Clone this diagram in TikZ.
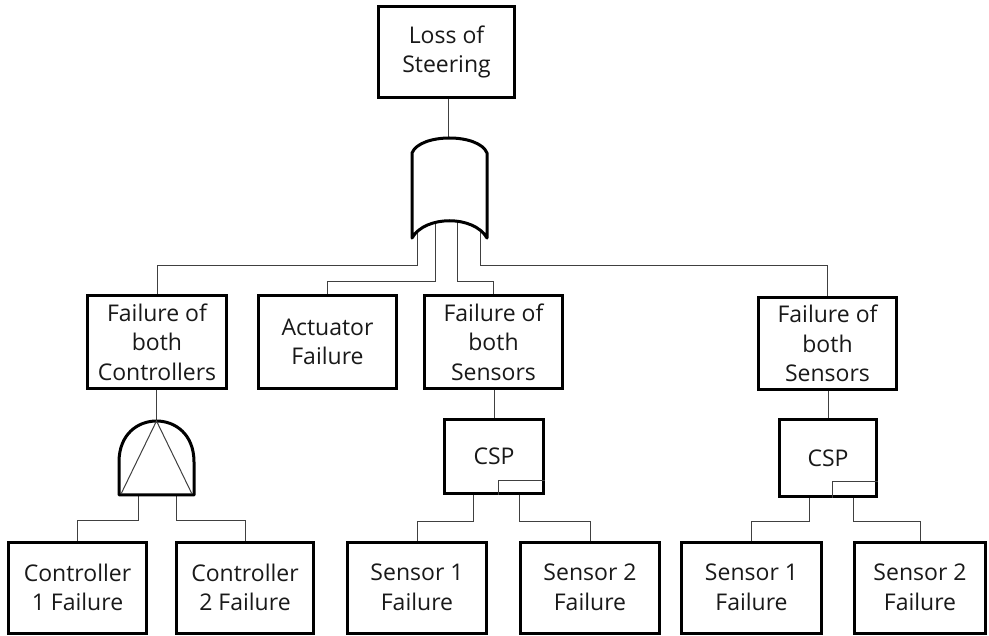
\documentclass[tikz,border=0pt]{standalone}
\usepackage{fontspec}
\setmainfont{Open Sans}
\usetikzlibrary{calc}
\begin{document}
\begin{tikzpicture}[x=1pt,y=-1pt,
  event/.style={draw=black,line width=3pt,fill=white,rectangle,inner sep=0pt,
    align=center,font=\fontsize{23}{29.5}\selectfont,text=black!90},
  link/.style={draw=black!75,line width=1pt},
  gateline/.style={draw=black,line width=3pt,fill=white,line join=round},
]
\useasboundingbox (0,0) rectangle (989,636);

% bus levels for the connectors
\coordinate (busA) at (0,266);
\coordinate (busB) at (0,282);
\coordinate (busC) at (0,520);
\coordinate (busD) at (0,521);

% events
\node[event,minimum width=136,minimum height=91] (top) at (446.5,52) {\raisebox{-3pt}{\parbox{130pt}{\centering Loss of\\Steering}}};

\node[event,minimum width=139,minimum height=93] (fc)  at (157,342)   {Failure of\\both\\Controllers};
\node[event,minimum width=138,minimum height=93] (act) at (327.5,342) {Actuator\\Failure};
\node[event,minimum width=138,minimum height=93] (fs1) at (493.5,342) {Failure of\\both\\Sensors};
\node[event,minimum width=138,minimum height=92] (fs2) at (827.5,343.5) {Failure of\\both\\Sensors};

\node[event,minimum width=99,minimum height=74] (csp1) at (494,456.5) {CSP};
\node[event,minimum width=97,minimum height=77] (csp2) at (828,458) {CSP};

\node[event,minimum width=138,minimum height=91] (c1) at (77.5,587.5) {Controller\\1 Failure};
\node[event,minimum width=137,minimum height=91] (c2) at (245,587.5)  {Controller\\2 Failure};
\node[event,minimum width=139,minimum height=91] (s1) at (417,587.5)  {Sensor 1\\Failure};
\node[event,minimum width=139,minimum height=91] (s2) at (590,587.5)  {Sensor 2\\Failure};
\node[event,minimum width=140,minimum height=91] (s3) at (751.5,587.5) {Sensor 1\\Failure};
\node[event,minimum width=131,minimum height=91] (s4) at (920,587.5)  {Sensor 2\\Failure};

% gate terminals (the parts inside a gate are covered by its fill)
\coordinate (ortop) at (448,150);
\coordinate (or1) at (417,225);
\coordinate (or2) at (435,215);
\coordinate (or3) at (457,215);
\coordinate (or4) at (480,225);
\coordinate (andtop) at (156.5,421);
\coordinate (and1) at (138,485);
\coordinate (and2) at (176,485);

% connectors
\draw[link] (top.south -| ortop) -- (ortop);
\draw[link] (or1) -- (or1 |- busA) -| (fc.north);
\draw[link] (or2) -- (or2 |- busB) -| (act.north);
\draw[link] (or3) -- (or3 |- busB) -| (fs1.north);
\draw[link] (or4) -- (or4 |- busA) -| (fs2.north);

\draw[link] (fc.south -| andtop) -- (andtop);
\draw[link] (and1) -- (and1 |- busC) -| (c1.north);
\draw[link] (and2) -- (and2 |- busC) -| (c2.north);

\draw[link] (fs1.south -| csp1.north) -- (csp1.north);
\coordinate (p1) at ($(csp1.south)+(-21,0)$);
\coordinate (p2) at ($(csp1.south)+(25,0)$);
\draw[link] (p1) -- (p1 |- busD) -| (s1.north);
\draw[link] (p2) -- (p2 |- busD) -| (s2.north);

\draw[link] (fs2.south -| csp2.north) -- (csp2.north);
\coordinate (q1) at ($(csp2.south)+(-19,0)$);
\coordinate (q2) at ($(csp2.south)+(25,0)$);
\draw[link] (q1) -- (q1 |- busD) -| (s3.north);
\draw[link] (q2) -- (q2 |- busD) -| (s4.north);

% priority mark inside the CSP gates
\draw[link] ($(csp1.south east)+(-47,0)$) -- ++(0,-14) -| ($(csp1.south east)+(0,-14)$);
\draw[link] ($(csp2.south east)+(-46,0)$) -- ++(0,-16) -| ($(csp2.south east)+(0,-16)$);

% OR gate
\draw[gateline] (412,153) .. controls (420,133) and (479,133) .. (487,153)
  -- (487,238) .. controls (474,215) and (425,215) .. (412,238) -- cycle;

% AND gate with its inner triangle
\draw[gateline] (119,495) -- (119,462) .. controls (119,434) and (138,421) .. (156.5,421)
  .. controls (175,421) and (194,434) .. (194,462) -- (194,495) -- cycle;
\draw[link] (121,494) -- (andtop) -- (192,494);
\end{tikzpicture}
\end{document}
